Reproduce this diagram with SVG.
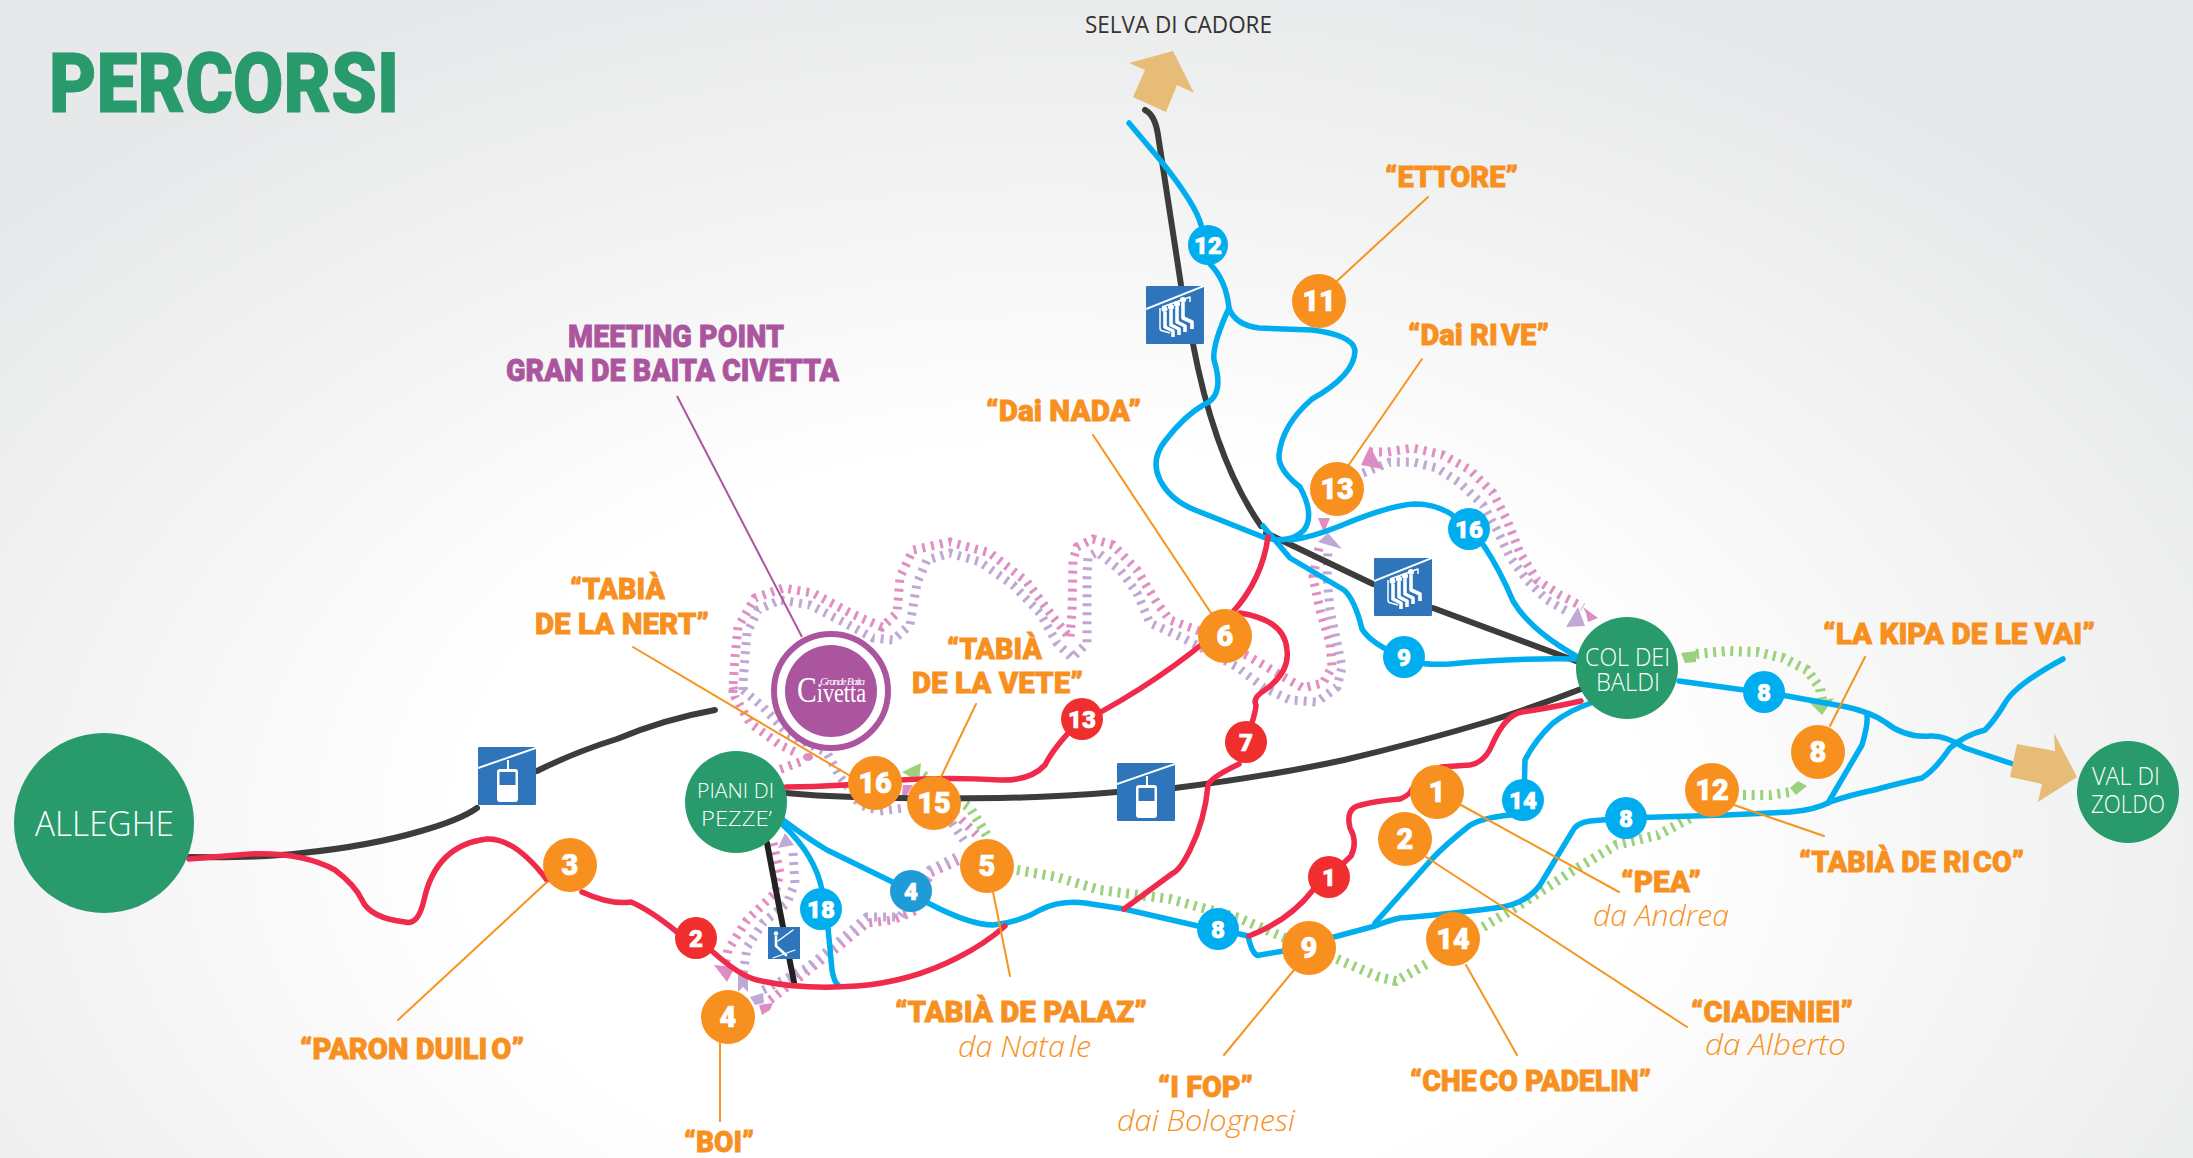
<svg xmlns="http://www.w3.org/2000/svg" xmlns:xlink="http://www.w3.org/1999/xlink" width="2193" height="1158" viewBox="0 0 2193 1158">
<style>
.tp,.tl,.tg{fill:none}
.tp{stroke:#e08fc3;stroke-width:9;stroke-dasharray:3 6}
.tl{stroke:#bfa8d6;stroke-width:9;stroke-dasharray:3 6}
.tg{stroke:#9bd27e;stroke-width:10;stroke-dasharray:3 5.6}
.r,.b,.k,.ld{fill:none;stroke-linecap:round;stroke-linejoin:round}
.r{stroke:#ef2a4a;stroke-width:5.5}
.b{stroke:#00aeef;stroke-width:5.5}
.k{stroke:#3c3c3b;stroke-width:6}
.ld{stroke:#f7941d;stroke-width:2}
.ap{fill:#dd8dc2}.al{fill:#c0a9d7}.ag{fill:#9bd27e}
.o{fill:#f7901e}.rd{fill:#ef2e2d}.bl{fill:#00aeef}.gn{fill:#289a6b}
.n{font-family:Roboto,"Open Sans",sans-serif;font-weight:900;fill:#fff;text-anchor:middle;stroke:#fff;stroke-width:.7}
.nb{font-size:29px}.ns{font-size:24px}
.h{font-family:Roboto,"Open Sans",sans-serif;font-weight:900;fill:#f7901e;font-size:30px;stroke:#f7901e;stroke-width:.8}
.m{font-family:Roboto,sans-serif;font-weight:900;font-size:32px;fill:#ac559f;stroke:#ac559f;stroke-width:.8}
.i{font-family:"Open Sans",Lato,sans-serif;font-weight:300;font-style:italic;fill:#f7901e;font-size:30px}
.pl{font-family:"Open Sans",Lato,sans-serif;font-weight:300;fill:#fff}
.sq{fill:#2e75bb}
</style>
<defs>
<radialGradient id="bg" gradientUnits="userSpaceOnUse" cx="0" cy="0" r="1" gradientTransform="translate(1050 830) scale(1400 900)">
<stop offset="0.42" stop-color="#ffffff"/><stop offset="1" stop-color="#e7e8e9"/>
</radialGradient>
<symbol id="gondola" viewBox="0 0 58 58" width="58" height="58">
<rect class="sq" width="58" height="58" rx="1"/>
<path d="M0 21 58 1" stroke="#fff" stroke-width="2" fill="none"/>
<path d="M30 13V22" stroke="#fff" stroke-width="2"/>
<rect x="19" y="22" width="21" height="33" rx="3" fill="#fff"/>
<rect x="21.500" y="25" width="16" height="13" fill="#2e75bb"/>
</symbol>
<symbol id="chair" viewBox="0 0 58 58" width="58" height="58">
<rect class="sq" width="58" height="58" rx="1"/>
<path d="M0 23 58 0" stroke="#fff" stroke-width="2" fill="none"/>
<g fill="none" stroke="#fff" stroke-linejoin="round">
<path d="M14 22V42Q14 45 17 45L24 47" stroke-width="1.500"/>
<path d="M16 21 44 11V16" stroke-width="1.500"/>
<g stroke-width="3.600">
<path d="M19 26V41L27 45V51"/><path d="M25 24V39L33 43V49"/><path d="M31 21V36L39 40V46"/><path d="M37 17V32L46 36V43"/>
</g>
</g>
<g fill="#fff"><circle cx="18.500" cy="23" r="3"/><circle cx="25" cy="21" r="3"/><circle cx="31" cy="18" r="3"/><circle cx="37" cy="14" r="3"/></g>
</symbol>
<symbol id="ski" viewBox="0 0 32 32" width="32" height="32">
<rect class="sq" width="32" height="32"/>
<circle cx="8" cy="6.500" r="2.200" fill="#fff"/>
<g fill="none" stroke="#fff" stroke-linecap="round">
<path d="M10 14 25 3" stroke-width="1.500"/>
<path d="M8 10V19L18 28" stroke-width="2.600"/>
<path d="M5 31 27 23" stroke-width="1.200"/>
</g>
</symbol>
</defs>
<rect id="background" width="2193" height="1158" fill="url(#bg)"/>
<text x="49" y="112" font-family="Roboto,'Open Sans',sans-serif" font-weight="900" font-size="83" fill="#289a6b" stroke="#289a6b" stroke-width="1" textLength="350" lengthAdjust="spacingAndGlyphs">PERCORSI</text>
<g id="connectors">
<g id="tracks">
<path class="tp" d="M733 693 733 687 735 657 738 627 755 598 783 588 813 593 850 613 882 627 897 613 900 577 913 550 950 542 990 553 1027 582 1053 617 1070 638 1072 610 1073 560 1077 547 1093 539 1113 545 1137 570 1157 603 1170 620 1197 630 1250 657 1277 673 1303 688 1323 683 1332 667 1330 643 1320 610 1313 577 1320 543"/>
<path class="tl" d="M743 690 743 683 745 657 747 633 758 610 780 600 810 605 843 622 873 638 893 640 910 625 917 583 927 560 950 553 980 562 1013 585 1040 613 1057 643 1072 658 1087 643 1087 577 1088 557 1097 552 1120 570 1137 593 1150 623 1183 638 1200 647 1237 667 1263 687 1290 700 1317 702 1337 687 1342 667 1337 643 1330 610 1327 577 1328 550"/>
<path class="tp" d="M733 687 735 697 750 723 780 745 797 753M800 762 778 770"/>
<path class="tl" d="M743 690 763 707 787 733 827 753 840 777 848 787 860 805 880 811 905 808"/>
<ellipse cx="808" cy="757" rx="5" ry="4" class="ap"/>
<path class="tp" d="M955 813 977 835"/>
<path class="tl" d="M952 823 965 842"/>
<path class="tg" d="M923 775 970 808 988 837"/>
<path class="tp" d="M773 843 780 873 775 893 747 920 728 950 725 965"/>
<path class="tl" d="M793 853 795 883 787 903 763 923 747 947 743 975"/>
<path class="tp" d="M770 1000 800 977 843 943 867 923 893 920 917 910 930 873 960 860"/>
<path class="tl" d="M763 990 807 968 837 943 867 917 900 917 915 895 930 870 960 855"/>
<path class="tp" d="M1370 452 1387 452 1413 448 1443 455 1470 470 1493 493 1507 520 1520 553 1537 580 1560 595 1583 607"/>
<path class="tl" d="M1363 473 1390 462 1413 462 1437 468 1460 483 1483 505 1497 530 1510 557 1527 580 1547 600 1570 613"/>
<path class="tg" d="M1017 870 1057 877 1100 890 1170 899 1239 918 1285 938"/>
<path class="tg" d="M1337 959 1379 977 1396 981 1428 963"/>
<path class="tg" d="M1483 927 1518 906 1574 870 1616 845 1658 835 1692 817"/>
<path class="tg" d="M1696 654 1727 651 1757 652 1783 658 1807 670 1820 688 1822 700"/>
<path class="tg" d="M1743 795 1770 795 1790 792"/>
<polygon class="ap" points="1370,446 1361,465 1382,469"/>
<polygon class="ap" points="1318,518 1330,518 1324,533"/>
<polygon class="al" points="1328,533 1342,549 1318,542"/>
<polygon class="al" points="1578,607 1585,626 1566,627"/>
<polygon class="ap" points="1583,607 1598,618 1588,622 1586,613"/>
<polygon class="al" points="785,833 794,845 778,848"/>
<polygon class="ap" points="714,965 735,967 727,982"/>
<polygon class="al" points="738,975 748,975 748,992 743,987 738,992"/>
<polygon class="al" points="750,997 763,993 764,1003 755,1005"/>
<polygon class="ap" points="759,1005 773,1003 770,1010 762,1015"/>
<polygon class="ag" points="902,772 921,763 919,782"/>
<polygon class="ap" points="903,785 913,785 907,795 902,795"/>
<polygon class="ag" points="1681,653 1696,651 1696,662 1685,663"/>
<polygon class="ag" points="1810,703 1834,698 1822,715"/>
<polygon class="ag" points="1790,788 1798,781 1807,786 1796,795"/>
</g>
<g id="lifts">
<path class="k" d="M190 857Q260 858 302 853 370 846 421 831 460 820 477 808"/>
<path class="k" d="M537 771Q575 752 617 739 665 719 715 710"/>
<path class="k" d="M786 793Q860 800 1000 798 1060 797 1117 792"/>
<path class="k" d="M1175 788Q1270 776 1344 760 1420 742 1490 721 1540 705 1581 689"/>
<path class="k" d="M1145 110Q1155 115 1158 135L1181 285 1193 344Q1215 460 1261 526"/>
<path class="k" d="M1266 533 1373 584M1433 608 1576 661"/>
<path class="k" style="stroke:#222" d="M767 843 783 927 794 982"/>
</g>
<g id="blue-routes">
<path class="b" d="M1129 123 1161 161Q1196 205 1201 225L1207 245 1210 264Q1226 280 1229 308"/>
<path class="b" d="M1229 308Q1212 345 1214 360 1225 395 1205 404 1185 415 1165 441 1150 460 1160 480 1170 500 1195 510L1263 537Q1290 545 1304 530 1315 515 1300 487 1278 470 1279 455 1282 425 1312 399 1355 375 1355 350 1352 335 1312 330L1259 328Q1235 325 1229 308"/>
<path class="b" d="M1290 540Q1310 538 1340 526 1390 505 1415 504 1435 504 1451 514L1469 529 1484 546Q1500 570 1513 601 1530 630 1576 656"/>
<path class="b" d="M1263 526 1290 558 1344 590Q1355 600 1362 629 1372 645 1404 657 1415 666 1450 664 1510 658 1576 659"/>
<path class="b" d="M1679 681 1787 696 1847 707Q1870 712 1885 722 1905 738 1930 736 1945 735 1965 748L2013 764"/>
<path class="b" d="M1867 716Q1868 725 1862 745L1828 803"/>
<path class="b" d="M1626 818 1727 815 1790 812Q1815 810 1830 802 1850 795 1874 790 1900 783 1922 778 1935 770 1950 748 1965 735 1985 730 1995 720 2005 703 2015 685 2063 659"/>
<path class="b" d="M1626 818 1590 821Q1576 823 1572 832L1540 885Q1525 905 1495 908 1440 915 1400 918 1390 920 1375 926L1334 937"/>
<path class="b" d="M1524 800 1525 760Q1535 740 1553 723 1570 710 1591 703"/>
<path class="b" d="M1523 805 1511 815Q1480 818 1469 826 1445 845 1431 860L1375 923"/>
<path class="b" d="M783 820Q810 840 827 850L911 891 928 903Q970 925 993 925 1020 922 1040 910 1060 900 1085 903L1124 909 1198 926 1218 929 1248 936Q1253 958 1260 955L1290 950"/>
<path class="b" d="M783 825Q815 855 822 890M828 928 832 970Q834 982 838 985"/>
</g>
<g id="red-routes">
<path class="r" d="M189 859 250 854Q302 852 335 870 355 885 362 900 370 918 405 922 418 926 424 900 436 845 487 839 515 838 547 880"/>
<path class="r" d="M582 892Q610 905 631 902 650 910 677 932"/>
<path class="r" d="M696 938 713 952Q740 976 757 980 800 990 857 986 910 982 957 958 985 944 1005 926"/>
<path class="r" d="M786 787Q840 787 900 780 950 777 1000 780 1030 781 1045 765 1055 745 1082 719"/>
<path class="r" d="M1082 722Q1160 682 1225 625"/>
<path class="r" d="M1232 613Q1262 580 1268 537"/>
<path class="r" d="M1240 613Q1285 620 1287 650 1290 672 1265 690 1252 698 1256 705 1256 712 1246 742"/>
<path class="r" d="M1239 764Q1210 778 1208 785 1205 820 1190 850 1180 870 1173 873L1124 909"/>
<path class="r" d="M1249 936Q1290 920 1313 890L1329 877"/>
<path class="r" d="M1329 877 1351 856Q1358 842 1350 828 1345 808 1361 805 1375 801 1400 799 1410 795 1412 789"/>
<path class="r" d="M1441 767 1470 765Q1485 762 1492 745 1505 715 1522 712 1550 708 1581 701"/>
</g>
<g id="leaders">
<path d="M677 396 802 637" fill="none" stroke="#ac559f" stroke-width="2"/>
<path class="ld" d="M1428 197 1337 281"/>
<path class="ld" d="M1422 359 1348 466"/>
<path class="ld" d="M1093 435 1211 613"/>
<path class="ld" d="M976 704 941 777"/>
<path class="ld" d="M633 647 852 777"/>
<path class="ld" d="M398 1020 547 882"/>
<path class="ld" d="M720 1043V1121"/>
<path class="ld" d="M993 892 1010 976"/>
<path class="ld" d="M1865 657 1830 726"/>
<path class="ld" d="M1734 805 1824 836"/>
<path class="ld" d="M1461 805 1619 892"/>
<path class="ld" d="M1426 857 1687 1027"/>
<path class="ld" d="M1294 970 1224 1055"/>
<path class="ld" d="M1466 965 1517 1055"/>
</g>
</g>
<g id="arrow-selva"><polygon points="1129,63 1173,51 1194,93 1177,85 1166,112 1133,97 1145,70" fill="#e6bc76"/>
<text x="1085" y="33" font-family="'Open Sans',Lato,sans-serif" font-weight="400" font-size="24" fill="#333" textLength="187" lengthAdjust="spacingAndGlyphs">SELVA DI CADORE</text></g>
<g id="arrow-zoldo"><polygon points="2054,733 2077,777 2038,802 2042,784 2010,777 2017,744 2055,751" fill="#e6bc76"/></g>
<g id="node-alleghe"><circle class="gn" cx="104" cy="823" r="90"/><text class="pl" x="35" y="836" font-size="35" textLength="139" lengthAdjust="spacingAndGlyphs">ALLEGHE</text></g>
<g id="node-piani"><circle class="gn" cx="736" cy="802" r="51"/><text class="pl" x="697" y="798" font-size="21" textLength="77" lengthAdjust="spacingAndGlyphs">PIANI DI</text><text class="pl" x="701" y="826" font-size="21" textLength="71" lengthAdjust="spacingAndGlyphs">PEZZE’</text></g>
<g id="node-col"><circle class="gn" cx="1627" cy="668" r="51"/><text class="pl" x="1585" y="666" font-size="25" textLength="85" lengthAdjust="spacingAndGlyphs">COL DEI</text><text class="pl" x="1596" y="691" font-size="25" textLength="64" lengthAdjust="spacingAndGlyphs">BALDI</text></g>
<g id="node-zoldo"><circle class="gn" cx="2128" cy="792" r="51"/><text class="pl" x="2092" y="785" font-size="25" textLength="68" lengthAdjust="spacingAndGlyphs">VAL DI</text><text class="pl" x="2091" y="813" font-size="25" textLength="74" lengthAdjust="spacingAndGlyphs">ZOLDO</text></g>
<g id="node-civetta"><circle cx="831" cy="691" r="57" fill="#fff" stroke="#ac559f" stroke-width="6"/><circle cx="831" cy="691" r="46" fill="#ac559f"/>
<text x="820" y="685" font-family="'Liberation Serif',serif" font-style="italic" font-size="11" fill="#fff" textLength="45">Grande Baita</text>
<text x="797" y="702" font-family="'Liberation Serif',serif" font-size="27" fill="#fff" textLength="69" lengthAdjust="spacingAndGlyphs"><tspan font-size="36">C</tspan>ivetta</text></g>
<use id="icon-gondola-1" href="#gondola" x="478" y="747"/>
<use id="icon-gondola-2" href="#gondola" x="1117" y="763"/>
<use id="icon-chair-1" href="#chair" x="1146" y="286"/>
<use id="icon-chair-2" href="#chair" x="1374" y="558"/>
<use id="icon-ski" href="#ski" x="768" y="927"/>
<g id="o3"><circle class="o" cx="570" cy="865" r="27"/><text class="n nb" x="570" y="875">3</text></g>
<g id="o4"><circle class="o" cx="728" cy="1017" r="27"/><text class="n nb" x="728" y="1027">4</text></g>
<g id="o5"><circle class="o" cx="987" cy="866" r="27"/><text class="n nb" x="987" y="876">5</text></g>
<g id="o15"><circle class="o" cx="934" cy="803" r="27"/><text class="n nb" x="934" y="813">15</text></g>
<g id="o16"><circle class="o" cx="875" cy="783" r="27"/><text class="n nb" x="875" y="793">16</text></g>
<g id="o6"><circle class="o" cx="1225" cy="636" r="27"/><text class="n nb" x="1225" y="646">6</text></g>
<g id="o11"><circle class="o" cx="1319" cy="301" r="27"/><text class="n nb" x="1319" y="311">11</text></g>
<g id="o13"><circle class="o" cx="1337" cy="489" r="27"/><text class="n nb" x="1337" y="499">13</text></g>
<g id="o1"><circle class="o" cx="1437" cy="792" r="27"/><text class="n nb" x="1437" y="802">1</text></g>
<g id="o2"><circle class="o" cx="1405" cy="839" r="27"/><text class="n nb" x="1405" y="849">2</text></g>
<g id="o9"><circle class="o" cx="1309" cy="948" r="27"/><text class="n nb" x="1309" y="958">9</text></g>
<g id="o14"><circle class="o" cx="1453" cy="939" r="27"/><text class="n nb" x="1453" y="949">14</text></g>
<g id="o12"><circle class="o" cx="1712" cy="790" r="27"/><text class="n nb" x="1712" y="800">12</text></g>
<g id="o8"><circle class="o" cx="1818" cy="752" r="27"/><text class="n nb" x="1818" y="762">8</text></g>
<g id="r2"><circle class="rd" cx="696" cy="938" r="21"/><text class="n ns" x="696" y="947">2</text></g>
<g id="r13"><circle class="rd" cx="1082" cy="719" r="21"/><text class="n ns" x="1082" y="728">13</text></g>
<g id="r7"><circle class="rd" cx="1246" cy="742" r="21"/><text class="n ns" x="1246" y="751">7</text></g>
<g id="r1"><circle class="rd" cx="1329" cy="877" r="21"/><text class="n ns" x="1329" y="886">1</text></g>
<g id="b18"><circle class="bl" cx="821" cy="909" r="21"/><text class="n ns" x="821" y="918">18</text></g>
<g id="b4"><circle cx="911" cy="891" r="21" fill="#1f9cd8"/><text class="n ns" x="911" y="900">4</text></g>
<g id="b12"><circle class="bl" cx="1208" cy="245" r="20"/><text class="n ns" x="1208" y="254">12</text></g>
<g id="b16"><circle class="bl" cx="1469" cy="529" r="21"/><text class="n ns" x="1469" y="538">16</text></g>
<g id="b9"><circle class="bl" cx="1404" cy="657" r="21"/><text class="n ns" x="1404" y="666">9</text></g>
<g id="b14"><circle class="bl" cx="1523" cy="800" r="21"/><text class="n ns" x="1523" y="809">14</text></g>
<g id="b8a"><circle class="bl" cx="1626" cy="818" r="21"/><text class="n ns" x="1626" y="827">8</text></g>
<g id="b8b"><circle class="bl" cx="1764" cy="692" r="21"/><text class="n ns" x="1764" y="701">8</text></g>
<g id="b8c"><circle class="bl" cx="1218" cy="929" r="21"/><text class="n ns" x="1218" y="938">8</text></g>
<g id="labels">
<text class="m" x="568" y="347" textLength="216" lengthAdjust="spacingAndGlyphs">MEETING POINT</text>
<text class="m" x="506" y="381" textLength="333" lengthAdjust="spacingAndGlyphs">GRAN DE BAITA CIVETTA</text>
<text class="h" x="1385" y="187" textLength="133" lengthAdjust="spacingAndGlyphs">“ETTORE”</text>
<text class="h" x="1408" y="345" textLength="141" lengthAdjust="spacingAndGlyphs">“Dai RI<tspan dx="3">VE”</tspan></text>
<text class="h" x="986" y="421" textLength="155" lengthAdjust="spacingAndGlyphs">“Dai NADA”</text>
<text class="h" x="947" y="659" textLength="95" lengthAdjust="spacingAndGlyphs">“TABIÀ</text>
<text class="h" x="912" y="693" textLength="171" lengthAdjust="spacingAndGlyphs">DE LA VETE”</text>
<text class="h" x="570" y="599" textLength="95" lengthAdjust="spacingAndGlyphs">“TABIÀ</text>
<text class="h" x="535" y="634" textLength="174" lengthAdjust="spacingAndGlyphs">DE LA NERT”</text>
<text class="h" x="300" y="1059" textLength="224" lengthAdjust="spacingAndGlyphs">“PARON DUILI<tspan dx="4">O”</tspan></text>
<text class="h" x="684" y="1152" textLength="70" lengthAdjust="spacingAndGlyphs">“BOI”</text>
<text class="h" x="895" y="1022" textLength="252" lengthAdjust="spacingAndGlyphs">“TABIÀ DE PALAZ”</text>
<text class="i" x="958" y="1057" textLength="133" lengthAdjust="spacingAndGlyphs">da Nata<tspan dx="4">le</tspan></text>
<text class="h" x="1823" y="644" textLength="272" lengthAdjust="spacingAndGlyphs">“LA KIPA DE LE VAI”</text>
<text class="h" x="1799" y="872" textLength="225" lengthAdjust="spacingAndGlyphs">“TABIÀ DE RI<tspan dx="3">CO”</tspan></text>
<text class="h" x="1621" y="892" textLength="80" lengthAdjust="spacingAndGlyphs">“PEA”</text>
<text class="i" x="1593" y="926" textLength="136" lengthAdjust="spacingAndGlyphs">da Andrea</text>
<text class="h" x="1691" y="1022" textLength="162" lengthAdjust="spacingAndGlyphs">“CIADENIEI”</text>
<text class="i" x="1705" y="1055" textLength="141" lengthAdjust="spacingAndGlyphs">da Alberto</text>
<text class="h" x="1158" y="1097" textLength="95" lengthAdjust="spacingAndGlyphs">“I FOP”</text>
<text class="i" x="1117" y="1131" textLength="178" lengthAdjust="spacingAndGlyphs">dai Bolognesi</text>
<text class="h" x="1410" y="1091" textLength="241" lengthAdjust="spacingAndGlyphs">“CHE<tspan dx="3">CO PADELIN”</tspan></text>
</g>
</svg>
